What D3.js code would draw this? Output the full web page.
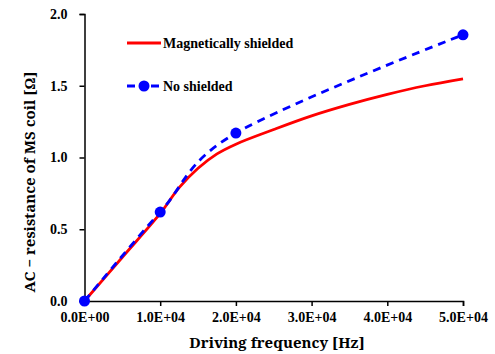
<!DOCTYPE html>
<html>
<head>
<meta charset="utf-8">
<script src="https://cdn.jsdelivr.net/npm/d3@7"></script>
<style>
  body { margin: 0; background: #fff; }
</style>
</head>
<body>
<svg id="chart" width="495" height="354"></svg>
<script>
/* data */
var freqShielded = [0, 5000, 10000, 12500, 15000, 17500, 20000, 25000, 30000, 35000, 40000, 45000, 50000];
var resShielded  = [0, 0.305, 0.61, 0.79, 0.925, 1.025, 1.093, 1.195, 1.29, 1.37, 1.44, 1.50, 1.548];
var freqNoShield = [0, 10000, 20000, 50000];
var resNoShield  = [0, 0.62, 1.17, 1.855];
var xTicks = [0, 10000, 20000, 30000, 40000, 50000];
var yTicks = [0, 0.5, 1.0, 1.5, 2.0];
var seriesNames = ["Magnetically shielded", "No shielded"];

var tickFont = "'Liberation Serif', 'Times New Roman', serif",
    titleFont = "'Noto Serif', 'DejaVu Serif', serif";

var svg = d3.select("#chart"),
    margin = {top: 14, right: 32, bottom: 53, left: 84.5},
    width = 463 - margin.left,
    height = 301 - margin.top;

var x = d3.scaleLinear().domain([0, 50000]).range([0, width]),
    y = d3.scaleLinear().domain([0, 2]).range([height, 0]);

var g = svg.append("g")
    .attr("transform", "translate(" + margin.left + "," + margin.top + ")");

/* x as */
var xAxis = g.append("g")
    .attr("transform", "translate(0," + height + ")")
    .call(d3.axisBottom(x).tickValues(xTicks).tickSizeOuter(0).tickSize(5).tickPadding(6)
      .tickFormat(function(d) { return d.toExponential(1).replace("e+", "E+0").toUpperCase(); }));

/* y as */
var yAxis = g.append("g")
    .call(d3.axisLeft(y).tickValues(yTicks).tickSizeOuter(0).tickSize(5).tickPadding(12)
      .tickFormat(d3.format(".1f")));

[xAxis, yAxis].forEach(function(ax) {
  ax.attr("font-family", tickFont).attr("font-size", 14).attr("font-weight", "bold");
  ax.select(".domain").attr("stroke", "#000").attr("stroke-width", 1.5);
  ax.selectAll(".tick line").attr("stroke", "#000").attr("stroke-width", 1.5);
  ax.selectAll(".tick text").attr("fill", "#000");
});

/* labels */
svg.append("text")
    .attr("x", 277)
    .attr("y", 348)
    .attr("text-anchor", "middle")
    .attr("font-family", titleFont)
    .attr("font-weight", "bold")
    .attr("font-size", 15)
    .text("Driving frequency [Hz]");

svg.append("text")
    .attr("transform", "translate(35,182) rotate(-90)")
    .attr("text-anchor", "middle")
    .attr("font-family", titleFont)
    .attr("font-weight", "bold")
    .attr("font-size", 15)
    .text("AC \u2212 resistance of MS coil [\u03A9]");

var shielded = freqShielded.map(function(f, i) { return [f, resShielded[i]]; });
var noShield = freqNoShield.map(function(f, i) { return [f, resNoShield[i]]; });

var line = d3.line()
    .x(function(d) { return x(d[0]); })
    .y(function(d) { return y(d[1]); });

g.append("path")
    .datum(shielded)
    .attr("fill", "none")
    .attr("stroke", "#ff0000")
    .attr("stroke-width", 2.8)
    .attr("d", line.curve(d3.curveCatmullRom.alpha(0.5)));

/* Excel-achtige smoothing */
g.append("path")
    .datum(noShield)
    .attr("fill", "none")
    .attr("stroke", "#0000ff")
    .attr("stroke-width", 2.8)
    .attr("stroke-dasharray", "8,6")
    .attr("d", line.curve(d3.curveCardinal.tension(0)));

g.selectAll(".dot")
    .data(noShield)
    .enter().append("circle")
    .attr("class", "dot")
    .attr("cx", function(d) { return x(d[0]); })
    .attr("cy", function(d) { return y(d[1]); })
    .attr("r", 5.5)
    .attr("fill", "#0000ff");

/* legenda */
var legend = svg.append("g")
    .attr("font-family", tickFont)
    .attr("font-weight", "bold")
    .attr("font-size", 14);
legend.append("line")
    .attr("x1", 127).attr("x2", 161).attr("y1", 43).attr("y2", 43)
    .attr("stroke", "#ff0000").attr("stroke-width", 2.8);
legend.append("text")
    .attr("x", 163).attr("y", 48)
    .text(seriesNames[0]);

legend.append("line")
    .attr("x1", 127).attr("x2", 161).attr("y1", 86).attr("y2", 86)
    .attr("stroke", "#0000ff").attr("stroke-width", 2.8).attr("stroke-dasharray", "8,4");
legend.append("circle")
    .attr("cx", 144).attr("cy", 86).attr("r", 5.5).attr("fill", "#0000ff");
legend.append("text")
    .attr("x", 163).attr("y", 91)
    .text(seriesNames[1]);
</script>
</body>
</html>
